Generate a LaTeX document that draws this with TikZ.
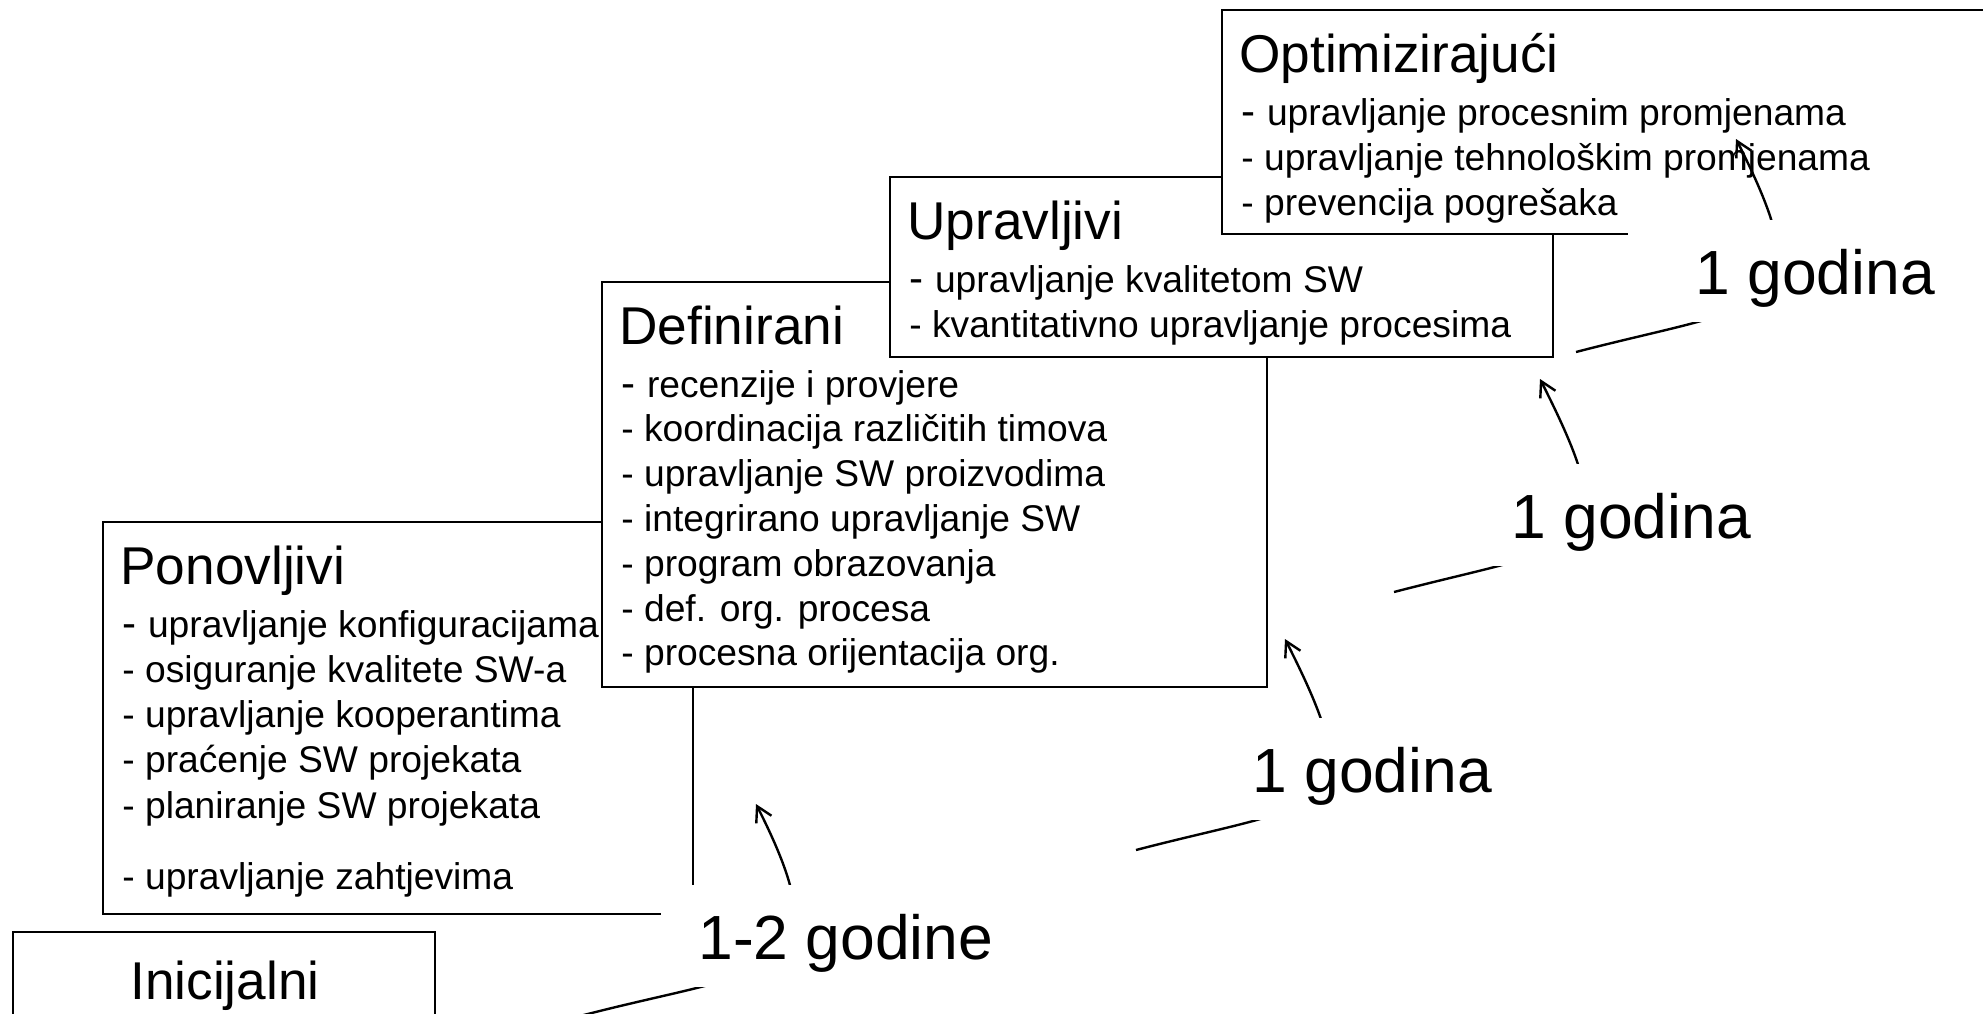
\documentclass[tikz,border=0pt]{standalone}
\usepackage{fontspec}
\setmainfont{Liberation Sans}
\usetikzlibrary{calc,arrows.meta}
\newcommand\fdash{{\fontsize{21}{22}\selectfont -\ }}
\begin{document}
\begin{tikzpicture}[x=0.5pt,y=-0.5pt,
  boxS/.style={draw=black, line width=1pt, fill=white, rectangle, inner sep=0pt, outer sep=0pt, anchor=north west},
  ttl/.style={anchor=base west, inner sep=0pt, font=\fontsize{26.6}{30}\selectfont},
  itm/.style={anchor=base west, inner sep=0pt, font=\fontsize{18.6}{22}\selectfont},
  lbl/.style={anchor=base west, fill=white, inner xsep=18.5pt, inner ysep=0pt, text height=37pt, text depth=14pt, font=\fontsize{31.2}{36}\selectfont},
  stepArc/.style={line width=1.2pt, -{Straight Barb[length=7.5pt,width=8.5pt]}}
]
\useasboundingbox (0,0) rectangle (1983,1013);
\clip (0,0) rectangle (1983,1013);

% Inicijalni
\node[boxS, minimum width=211pt, minimum height=70pt] (I) at (13,932) {};
\node[anchor=base, inner sep=0pt, font=\fontsize{26.6}{30}\selectfont] (It) at (225,999) {Inicijalni};

% Ponovljivi
\node[boxS, minimum width=295pt, minimum height=196pt] (P) at (103,522) {};
\node[ttl] (Pt) at ($(P.north west)+(17,62)$) {Ponovljivi};
\node[itm] (p1) at ($(P.north west)+(19,115)$) {\fdash upravljanje konfiguracijama};
\foreach \t [count=\i from 2] in {osiguranje kvalitete SW-a, upravljanje kooperantima, praćenje SW projekata, planiranje SW projekata}
  \node[itm] (p\i) at ($(P.north west)+(19,{115+45.3*(\i-1)})$) {- \t};
\node[itm] (p6) at ($(P.north west)+(19,{115+45.3*4+71})$) {- upravljanje zahtjevima};

% Definirani
\node[boxS, minimum width=332.5pt, minimum height=202.5pt] (D) at (602,282) {};
\node[ttl] (Dt) at ($(D.north west)+(17,62)$) {Definirani};
\node[itm] (d1) at ($(D.north west)+(19,115)$) {\fdash recenzije i provjere};
\foreach \t [count=\i from 2] in {koordinacija različitih timova, upravljanje SW proizvodima, integrirano upravljanje SW, program obrazovanja, def. org. procesa, procesna orijentacija org.}
  \node[itm] (d\i) at ($(D.north west)+(19,{115+44.8*(\i-1)})$) {- \t};

% Upravljivi
\node[boxS, minimum width=331.5pt, minimum height=90pt] (U) at (890,177) {};
\node[ttl] (Ut) at ($(U.north west)+(17,62)$) {Upravljivi};
\node[itm] (u1) at ($(U.north west)+(19,115)$) {\fdash upravljanje kvalitetom SW};
\node[itm] (u2) at ($(U.north west)+(19,160.3)$) {- kvantitativno upravljanje procesima};

% Optimizirajuci
\node[boxS, minimum width=394pt, minimum height=112pt] (O) at (1222,10) {};
\node[ttl] (Ot) at ($(O.north west)+(17,62)$) {Optimizirajući};
\node[itm] (o1) at ($(O.north west)+(19,115)$) {\fdash upravljanje procesnim promjenama};
\node[itm] (o2) at ($(O.north west)+(19,160.3)$) {- upravljanje tehnološkim promjenama};
\node[itm] (o3) at ($(O.north west)+(19,205.6)$) {- prevencija pogrešaka};

% arcs
\coordinate (s1) at (580,1016); \coordinate (t1) at (756,804);
\coordinate (s2) at (1136,850); \coordinate (t2) at (1285,639);
\coordinate (s3) at (1394,592); \coordinate (t3) at (1540,379);
\coordinate (s4) at (1576,352); \coordinate (t4) at (1736,139);
\foreach \k in {1,2,3,4}
  \draw[stepArc] (s\k) .. controls ($(s\k)+(192,-50)$) and ($(t\k)+(90,178)$) .. (t\k);

% labels
\node[lbl] (L1) at (661,959) {1-2 godine};
\node[lbl] (L2) at (1215,792) {1 godina};
\node[lbl] (L3) at (1474,538) {1 godina};
\node[lbl, inner xsep=33.5pt] (L4) at (1628,294) {1 godina};
\end{tikzpicture}
\end{document}
